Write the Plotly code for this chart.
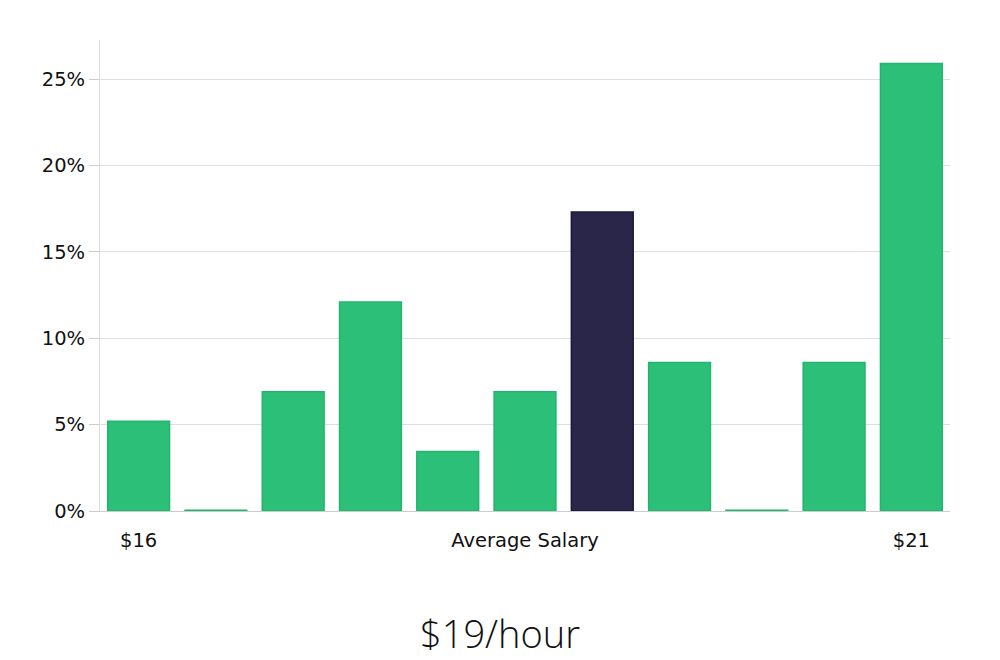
import plotly.graph_objects as go

categories = ["$16", "b2", "b3", "b4", "b5", "Average Salary", "b7", "b8", "b9", "b10", "$21"]
values = [5.2, 0.05, 6.9, 12.1, 3.45, 6.9, 17.3, 8.6, 0.05, 8.6, 25.9]
highlight_index = 6
tick_positions = [0, 5, 10]
tick_labels = ["$16", "Average Salary", "$21"]
y_ticks = [0, 5, 10, 15, 20, 25]
y_tick_labels = ["0%", "5%", "10%", "15%", "20%", "25%"]
title_text = "$19/hour"

green = "#2bbf78"
green_edge = "#22b56f"
dark = "#29264a"
dark_edge = "#1b1840"

colors = [dark if i == highlight_index else green for i in range(len(values))]
edges = [dark_edge if i == highlight_index else green_edge for i in range(len(values))]

fig = go.Figure(go.Bar(
    x=list(range(len(values))),
    y=values,
    marker=dict(color=colors, line=dict(color=edges, width=1.5)),
    hoverinfo="skip",
))

fig.update_layout(
    width=992, height=652,
    margin=dict(l=92, r=50, t=32, b=149),
    paper_bgcolor="white", plot_bgcolor="white",
    bargap=0.2,
    showlegend=False,
    font=dict(family="DejaVu Sans", size=19.5, color="#111111"),
)
fig.update_xaxes(
    tickmode="array", tickvals=tick_positions, ticktext=tick_labels,
    range=[-0.5, len(values) - 0.5],
    showline=True, linecolor="#cccccc", linewidth=1,
    showgrid=False, ticks="outside", ticklen=12, tickcolor="rgba(0,0,0,0)",
    tickfont=dict(size=19.5),
)
fig.update_yaxes(
    tickmode="array", tickvals=y_ticks, ticktext=y_tick_labels,
    range=[0, 27.26],
    showline=True, linecolor="#dddddd", linewidth=1,
    showgrid=True, gridcolor="#dedede", gridwidth=1,
    ticks="outside", ticklen=10, tickcolor="#cccccc",
    zeroline=False,
    tickfont=dict(size=19.5),
)
fig.add_annotation(
    text=title_text, xref="paper", yref="paper", x=0.4705, y=-0.259,
    xanchor="center", yanchor="middle", showarrow=False,
    font=dict(family="Open Sans", size=38, color="#111111", weight=300),
)
fig.write_html("out.html")
